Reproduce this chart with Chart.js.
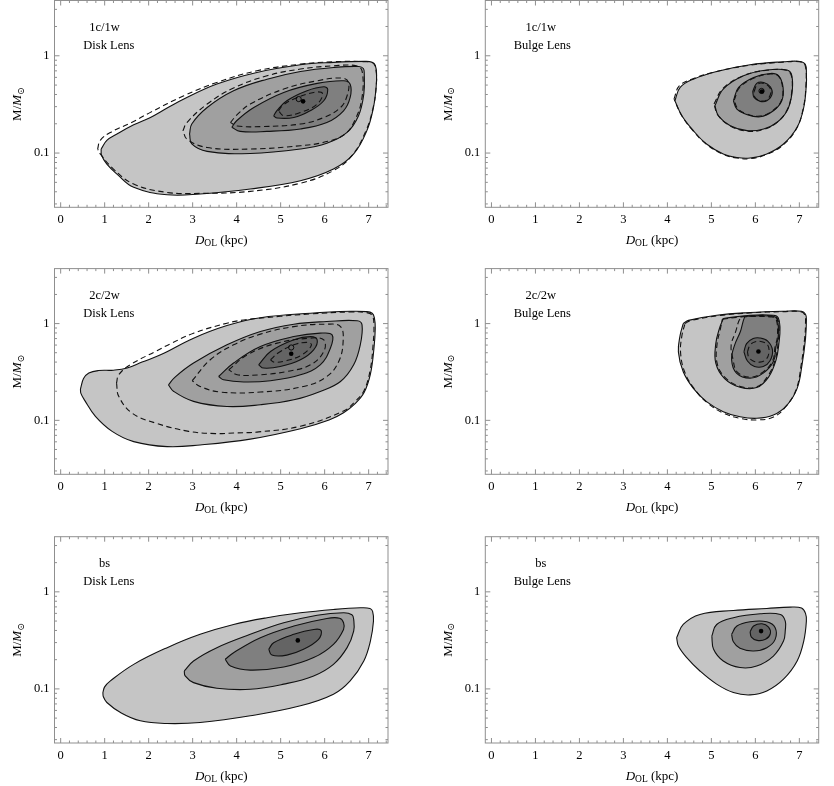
<!DOCTYPE html>
<html>
<head>
<meta charset="utf-8">
<script src="https://cdn.jsdelivr.net/npm/chart.js@4.4.1/dist/chart.umd.min.js"></script>
<style>
  html, body { margin: 0; padding: 0; background: #fff; }
  #wrap { position: relative; width: 834px; height: 786px; }
  #wrap canvas { position: absolute; }
</style>
</head>
<body>
<div id="wrap"></div>
<script>
// axes
const X_MIN = -0.14, X_MAX = 7.44;
const Y_MIN = 0.0277, Y_MAX = 3.7;
const X_TICKS = [0, 1, 2, 3, 4, 5, 6, 7];
const Y_TICKS = [0.1, 1];
const Y_MINOR = [0.03, 0.04, 0.05, 0.06, 0.07, 0.08, 0.09, 0.2, 0.3, 0.4, 0.5, 0.6, 0.7, 0.8, 0.9, 2, 3];

const PANEL_TAGS = ["1c/1w", "1c/1w", "2c/2w", "2c/2w", "bs", "bs"];
const LENS_NAMES = ["Disk Lens", "Bulge Lens", "Disk Lens", "Bulge Lens", "Disk Lens", "Bulge Lens"];

// === contours, [D_OL (kpc), M/Msun] ===
// 1c/1w disk
const disk1cSolid = [
  [[0.92,0.110],[1.05,0.135],[1.28,0.157],[1.66,0.195],[2.04,0.232],[2.42,0.29],[2.80,0.359],[3.55,0.512],[4.46,0.674],[5.45,0.809],[6.20,0.855],[6.90,0.875],[7.08,0.86],[7.15,0.80],[7.18,0.65],[7.17,0.473],[7.11,0.294],[6.96,0.17],[6.66,0.098],[6.20,0.0685],[5.45,0.052],[4.31,0.0427],[3.17,0.038],[2.42,0.0373],[1.66,0.0444],[1.28,0.0608],[1.05,0.077],[0.93,0.095]],
  [[2.93,0.157],[2.98,0.199],[3.33,0.294],[3.93,0.437],[4.69,0.575],[5.45,0.690],[6.20,0.759],[6.78,0.777],[6.88,0.74],[6.90,0.66],[6.89,0.404],[6.77,0.242],[6.51,0.163],[6.05,0.126],[5.45,0.110],[4.31,0.099],[3.33,0.104],[2.98,0.124]],
  [[3.89,0.184],[4.0,0.215],[4.39,0.294],[5.07,0.42],[5.83,0.52],[6.43,0.553],[6.58,0.51],[6.58,0.373],[6.43,0.272],[6.05,0.206],[5.45,0.177],[4.69,0.167],[4.08,0.167]],
  [[4.84,0.242],[4.92,0.275],[5.14,0.345],[5.60,0.437],[5.98,0.48],[6.07,0.45],[5.98,0.345],[5.67,0.272],[5.30,0.232],[4.92,0.229]]
];
const disk1cDashed = [
  [[0.84,0.11],[0.90,0.135],[1.13,0.163],[1.60,0.205],[2.04,0.262],[2.80,0.388],[3.55,0.532],[4.46,0.701],[5.45,0.82],[6.20,0.868],[6.90,0.87],[7.10,0.84],[7.17,0.70],[7.17,0.47],[7.10,0.29],[6.94,0.17],[6.62,0.094],[6.20,0.066],[5.45,0.049],[4.31,0.0404],[3.17,0.0385],[2.42,0.0394],[1.66,0.048],[1.20,0.0685],[0.90,0.098]],
  [[2.78,0.17],[2.87,0.206],[3.33,0.319],[3.93,0.466],[4.69,0.623],[5.45,0.73],[6.20,0.789],[6.72,0.79],[6.85,0.70],[6.85,0.373],[6.70,0.224],[6.45,0.155],[5.98,0.129],[5.45,0.119],[4.31,0.11],[3.33,0.114],[2.87,0.139]],
  [[3.86,0.206],[4.0,0.245],[4.31,0.319],[5.07,0.455],[5.83,0.553],[6.40,0.59],[6.54,0.532],[6.51,0.388],[6.36,0.294],[5.98,0.232],[5.45,0.199],[4.54,0.187],[4.01,0.19]],
  [[4.95,0.272],[5.05,0.31],[5.30,0.359],[5.75,0.42],[5.95,0.41],[5.83,0.319],[5.45,0.262],[5.07,0.242]]
];
const disk1cBest = [5.51, 0.34];
const disk1cOpen = [5.41, 0.359];

// 1c/1w bulge
const bulge1cSolid = [
  [[4.17,0.345],[4.29,0.473],[4.59,0.575],[5.12,0.69],[5.88,0.809],[6.64,0.868],[7.02,0.874],[7.14,0.81],[7.16,0.65],[7.16,0.512],[7.10,0.294],[6.95,0.184],[6.64,0.124],[6.26,0.098],[5.88,0.089],[5.58,0.090],[5.27,0.098],[4.89,0.124],[4.59,0.17],[4.33,0.242]],
  [[5.08,0.306],[5.27,0.455],[5.73,0.623],[6.26,0.713],[6.72,0.713],[6.83,0.623],[6.83,0.404],[6.72,0.272],[6.49,0.206],[6.19,0.177],[5.81,0.17],[5.43,0.191],[5.16,0.242]],
  [[5.50,0.345],[5.62,0.473],[5.96,0.598],[6.34,0.658],[6.53,0.623],[6.63,0.473],[6.60,0.345],[6.41,0.272],[6.11,0.236],[5.77,0.252],[5.58,0.283]],
  [[5.94,0.43],[6.03,0.52],[6.19,0.532],[6.34,0.48],[6.38,0.404],[6.26,0.345],[6.11,0.34],[5.97,0.373]]
];
const bulge1cDashed = [
  [[4.15,0.36],[4.27,0.49],[4.58,0.58],[5.12,0.69],[5.88,0.80],[6.64,0.86],[7.00,0.87],[7.13,0.80],[7.15,0.50],[7.09,0.29],[6.94,0.18],[6.64,0.122],[6.26,0.097],[5.88,0.0875],[5.58,0.089],[5.27,0.097],[4.89,0.123],[4.59,0.168],[4.32,0.245]],
  [[5.06,0.32],[5.26,0.46],[5.73,0.625],[6.26,0.71],[6.70,0.71],[6.82,0.62],[6.82,0.40],[6.71,0.27],[6.48,0.205],[6.19,0.175],[5.81,0.168],[5.43,0.19],[5.15,0.245]],
  [[5.52,0.35],[5.64,0.47],[5.97,0.59],[6.34,0.65],[6.52,0.62],[6.62,0.47],[6.59,0.345],[6.40,0.274],[6.11,0.24],[5.78,0.255],[5.59,0.29]],
  [[5.97,0.43],[6.05,0.51],[6.19,0.52],[6.32,0.475],[6.35,0.41],[6.25,0.35],[6.11,0.345],[5.99,0.375]]
];
const bulge1cBest = [6.15, 0.43];
const bulge1cOpen = [6.14, 0.435];

// 2c/2w disk
const disk2cSolid = [
  [[0.45,0.211],[0.52,0.27],[0.64,0.308],[0.86,0.327],[1.20,0.33],[1.51,0.347],[1.85,0.40],[2.27,0.475],[3.02,0.707],[3.78,0.955],[4.54,1.15],[5.68,1.28],[6.60,1.34],[6.95,1.33],[7.08,1.28],[7.13,1.15],[7.15,0.888],[7.12,0.55],[7.04,0.30],[6.90,0.195],[6.70,0.150],[6.43,0.120],[6.10,0.101],[5.45,0.082],[4.31,0.0640],[3.17,0.0557],[2.42,0.0535],[1.66,0.0603],[1.17,0.077],[0.79,0.11],[0.55,0.16],[0.46,0.19]],
  [[2.45,0.233],[2.60,0.28],[3.02,0.391],[3.78,0.603],[4.54,0.828],[5.30,0.986],[6.05,1.05],[6.74,1.07],[6.85,0.97],[6.81,0.603],[6.66,0.375],[6.36,0.252],[5.90,0.199],[5.30,0.163],[4.54,0.145],[3.78,0.139],[3.02,0.157],[2.57,0.199]],
  [[3.59,0.284],[3.93,0.391],[4.54,0.579],[5.30,0.734],[5.90,0.796],[6.17,0.765],[6.13,0.557],[5.90,0.375],[5.45,0.296],[4.77,0.257],[4.16,0.249],[3.70,0.263]],
  [[4.50,0.375],[4.77,0.514],[5.30,0.679],[5.68,0.734],[5.83,0.679],[5.75,0.536],[5.45,0.423],[4.99,0.36],[4.61,0.347]]
];
const disk2cDashed = [
  [[1.27,0.243],[1.32,0.296],[1.58,0.375],[2.15,0.514],[2.50,0.62],[3.02,0.796],[3.78,1.01],[4.16,1.09],[5.00,1.19],[5.68,1.26],[6.60,1.32],[6.95,1.30],[7.08,1.22],[7.12,0.95],[7.10,0.60],[7.04,0.34],[6.90,0.205],[6.70,0.158],[6.43,0.125],[5.45,0.087],[4.50,0.076],[3.93,0.074],[3.52,0.073],[2.91,0.077],[2.15,0.094],[1.62,0.119],[1.32,0.177]],
  [[2.99,0.257],[3.40,0.423],[3.93,0.603],[4.54,0.778],[5.30,0.931],[6.05,0.986],[6.36,0.931],[6.42,0.652],[6.32,0.406],[6.05,0.284],[5.52,0.224],[4.54,0.196],[3.63,0.196],[3.17,0.224]],
  [[3.82,0.333],[4.24,0.475],[4.92,0.628],[5.68,0.707],[5.98,0.679],[5.98,0.514],[5.68,0.375],[5.15,0.32],[4.54,0.296],[4.01,0.296]],
  [[4.77,0.423],[4.95,0.50],[5.30,0.603],[5.60,0.64],[5.70,0.60],[5.50,0.48],[5.10,0.41],[4.85,0.40]]
];
const disk2cBest = [5.24, 0.488];
const disk2cOpen = [5.24, 0.566];

// 2c/2w bulge
const bulge2cSolid = [
  [[4.36,1.0],[4.48,1.08],[5.12,1.22],[5.88,1.30],[6.64,1.34],[7.05,1.34],[7.14,1.25],[7.16,1.10],[7.14,0.70],[7.06,0.372],[6.95,0.214],[6.72,0.144],[6.41,0.1135],[6.03,0.105],[5.65,0.109],[5.27,0.123],[4.89,0.156],[4.59,0.214],[4.36,0.318],[4.25,0.51],[4.29,0.759]],
  [[5.27,1.13],[5.88,1.22],[6.41,1.22],[6.52,1.15],[6.56,0.90],[6.54,0.65],[6.47,0.42],[6.30,0.28],[6.03,0.218],[5.65,0.22],[5.30,0.27],[5.10,0.39],[5.10,0.62],[5.18,0.88]],
  [[5.76,1.18],[6.00,1.20],[6.40,1.19],[6.50,1.10],[6.52,0.734],[6.47,0.58],[6.41,0.406],[6.18,0.308],[5.88,0.273],[5.57,0.308],[5.46,0.423],[5.53,0.603],[5.66,0.828],[5.72,1.05]],
  [[5.74,0.51],[5.80,0.62],[5.95,0.70],[6.10,0.71],[6.28,0.66],[6.39,0.53],[6.33,0.41],[6.18,0.36],[5.98,0.36],[5.82,0.41]]
];
const bulge2cDashed = [
  [[4.40,1.0],[4.52,1.07],[5.12,1.20],[5.88,1.29],[6.64,1.33],[7.03,1.33],[7.12,1.24],[7.14,1.0],[7.12,0.70],[7.04,0.37],[6.93,0.21],[6.70,0.14],[6.41,0.108],[6.03,0.101],[5.65,0.105],[5.27,0.119],[4.92,0.15],[4.63,0.207],[4.40,0.31],[4.30,0.50],[4.33,0.75]],
  [[5.25,1.11],[5.88,1.20],[6.40,1.20],[6.50,1.12],[6.54,0.90],[6.52,0.65],[6.45,0.42],[6.28,0.285],[6.03,0.222],[5.66,0.224],[5.32,0.275],[5.13,0.39],[5.13,0.62],[5.20,0.86]],
  [[5.68,1.17],[5.78,1.18],[6.38,1.17],[6.48,1.08],[6.50,0.73],[6.45,0.58],[6.39,0.41],[6.17,0.315],[5.88,0.28],[5.59,0.315],[5.49,0.43],[5.45,0.60],[5.55,0.82],[5.62,1.05]],
  [[5.82,0.51],[5.88,0.60],[6.00,0.65],[6.15,0.65],[6.28,0.60],[6.31,0.51],[6.25,0.43],[6.10,0.40],[5.95,0.41],[5.85,0.45]]
];
const bulge2cBest = [6.07, 0.515];

// bs disk
const diskBsSolid = [
  [[0.96,0.0917],[1.00,0.105],[1.13,0.121],[1.66,0.179],[2.42,0.266],[3.17,0.365],[3.93,0.461],[4.69,0.541],[5.45,0.608],[6.20,0.658],[6.81,0.685],[7.03,0.675],[7.09,0.63],[7.11,0.50],[7.04,0.311],[6.89,0.194],[6.58,0.121],[6.20,0.0881],[5.45,0.0669],[4.31,0.0528],[3.17,0.0451],[2.42,0.044],[1.81,0.0469],[1.36,0.0571],[1.05,0.0724],[0.97,0.083]],
  [[2.81,0.153],[3.02,0.194],[3.55,0.266],[4.31,0.365],[5.07,0.48],[5.83,0.575],[6.43,0.608],[6.62,0.58],[6.66,0.52],[6.66,0.394],[6.51,0.266],[6.20,0.179],[5.75,0.136],[5.07,0.112],[4.31,0.099],[3.55,0.1016],[3.02,0.116],[2.83,0.136]],
  [[3.74,0.202],[3.93,0.236],[4.54,0.337],[5.30,0.444],[6.05,0.532],[6.34,0.535],[6.43,0.48],[6.43,0.41],[6.20,0.288],[5.75,0.21],[5.07,0.168],[4.31,0.156],[3.86,0.172]],
  [[4.73,0.256],[4.84,0.299],[5.30,0.365],[5.75,0.41],[5.92,0.40],[5.86,0.324],[5.52,0.256],[5.14,0.223],[4.80,0.223]]
];
const diskBsBest = [5.39, 0.316];

// bs bulge
const bulgeBsSolid = [
  [[4.21,0.337],[4.36,0.461],[4.74,0.585],[5.50,0.643],[6.26,0.674],[6.79,0.696],[7.05,0.68],[7.14,0.60],[7.16,0.50],[7.10,0.311],[6.95,0.194],[6.64,0.126],[6.26,0.0953],[5.88,0.0867],[5.50,0.0917],[5.12,0.112],[4.74,0.153],[4.44,0.21],[4.25,0.277]],
  [[5.01,0.35],[5.12,0.461],[5.50,0.541],[6.11,0.594],[6.57,0.585],[6.68,0.50],[6.68,0.40],[6.64,0.311],[6.41,0.218],[6.03,0.172],[5.65,0.166],[5.27,0.194],[5.05,0.256]],
  [[5.46,0.365],[5.58,0.444],[5.88,0.492],[6.26,0.492],[6.45,0.427],[6.45,0.324],[6.26,0.266],[5.96,0.246],[5.65,0.262],[5.50,0.306]],
  [[5.88,0.388],[5.96,0.444],[6.15,0.469],[6.30,0.433],[6.34,0.37],[6.23,0.324],[6.04,0.316],[5.91,0.342]]
];
const bulgeBsBest = [6.13, 0.394];

const panels = [
  { solid: disk1cSolid, dashed: disk1cDashed, best: disk1cBest, open: disk1cOpen },
  { solid: bulge1cSolid, dashed: bulge1cDashed, best: bulge1cBest, open: bulge1cOpen },
  { solid: disk2cSolid, dashed: disk2cDashed, best: disk2cBest, open: disk2cOpen },
  { solid: bulge2cSolid, dashed: bulge2cDashed, best: bulge2cBest },
  { solid: diskBsSolid, dashed: [], best: diskBsBest },
  { solid: bulgeBsSolid, dashed: [], best: bulgeBsBest }
];

// === look ===
const FILLS = ["#c5c5c5", "#a0a0a0", "#7f7f7f", "#646464"];
const FRAME = "#8f8f8f";
const SERIF = "'Liberation Serif', 'DejaVu Serif', serif";
const CANVAS_W = 417, CANVAS_H = 262;
// plot area inside each canvas: [y axis width, right pad] per column, [top pad, x axis height] per row
const COLS = [[54.5, 29], [68.3, 15.3]];
const ROWS = [[0.5, 54.7], [6.6, 49.7], [12.7, 43]];

function loop(pts) {
  return pts.concat([pts[0]]).map(p => ({ x: p[0], y: p[1] }));
}

function buildDatasets(p) {
  const ds = [];
  p.solid.forEach((c, i) => ds.push({
    data: loop(c), borderColor: "#111", borderWidth: 1.1,
    backgroundColor: FILLS[i], fill: "shape", tension: 0.4, pointRadius: 0
  }));
  p.dashed.forEach(c => ds.push({
    data: loop(c), borderColor: "#111", borderWidth: 1.1, borderDash: [5.5, 3.5],
    fill: false, tension: 0.4, pointRadius: 0
  }));
  if (p.open) ds.push({
    data: [{ x: p.open[0], y: p.open[1] }], showLine: false,
    pointRadius: 2.6, pointBackgroundColor: "rgba(0,0,0,0)", pointBorderColor: "#000", pointBorderWidth: 0.9
  });
  ds.push({
    data: [{ x: p.best[0], y: p.best[1] }], showLine: false,
    pointRadius: 2.3, pointBackgroundColor: "#000", pointBorderColor: "#000", pointBorderWidth: 0
  });
  ds.forEach((d, i) => { d.order = -i; });
  return ds;
}

// frame with inward ticks on all sides
const framePlugin = {
  id: "frame",
  afterDatasetsDraw(chart) {
    const { ctx, chartArea: a, scales: { x, y } } = chart;
    ctx.save();
    ctx.strokeStyle = FRAME;
    ctx.lineWidth = 1;
    ctx.strokeRect(a.left, a.top, a.right - a.left, a.bottom - a.top);
    ctx.beginPath();
    for (let i = 0; i <= 37; i++) {
      const px = x.getPixelForValue(i / 5);
      const len = i % 5 === 0 ? 5 : 2.5;
      ctx.moveTo(px, a.bottom); ctx.lineTo(px, a.bottom - len);
      ctx.moveTo(px, a.top); ctx.lineTo(px, a.top + len);
    }
    Y_TICKS.concat(Y_MINOR).forEach(v => {
      const py = y.getPixelForValue(v);
      const len = Y_TICKS.includes(v) ? 5 : 2.5;
      ctx.moveTo(a.left, py); ctx.lineTo(a.left + len, py);
      ctx.moveTo(a.right, py); ctx.lineTo(a.right - len, py);
    });
    ctx.stroke();
    ctx.restore();
  }
};

// axis titles and panel labels
function textPlugin(idx) {
  return {
    id: "texts",
    afterDraw(chart) {
      const { ctx, chartArea: a } = chart;
      const right = idx % 2 === 1;
      ctx.save();
      ctx.fillStyle = "#000";
      ctx.textBaseline = "middle";
      ctx.textAlign = "center";
      ctx.font = "12.5px " + SERIF;
      ctx.fillText(PANEL_TAGS[idx], a.left + (right ? 55.5 : 50), a.top + 27.5);
      ctx.fillText(LENS_NAMES[idx], a.left + (right ? 57 : 54.3), a.top + 45);

      // x title: D_OL (kpc)
      drawParts(ctx, [
        { t: "D", f: "italic 13px " + SERIF, dy: 0 },
        { t: "OL", f: "9.5px " + SERIF, dy: 3 },
        { t: " (kpc)", f: "13px " + SERIF, dy: 0 }
      ], (a.left + a.right) / 2, a.bottom + 33.5);

      // y title: M/M_sun, rotated
      ctx.translate(a.left - 36.5, (a.top + a.bottom) / 2);
      ctx.rotate(-Math.PI / 2);
      drawParts(ctx, [
        { t: "M/", f: "13px " + SERIF, dy: 0 },
        { t: "M", f: "italic 13px " + SERIF, dy: 0 },
        { t: "\u2299", f: "9.5px " + SERIF, dy: 3 }
      ], 0, 0);
      ctx.restore();
    }
  };
}

function drawParts(ctx, parts, cx, cy) {
  let w = 0;
  parts.forEach(p => { ctx.font = p.f; w += ctx.measureText(p.t).width; });
  let x = cx - w / 2;
  ctx.textAlign = "left";
  parts.forEach(p => {
    ctx.font = p.f;
    ctx.fillText(p.t, x, cy + p.dy);
    x += ctx.measureText(p.t).width;
  });
  ctx.textAlign = "center";
}

const wrap = document.getElementById("wrap");
panels.forEach((p, idx) => {
  const col = idx % 2, row = Math.floor(idx / 2);
  const cv = document.createElement("canvas");
  cv.width = CANVAS_W; cv.height = CANVAS_H;
  cv.style.left = (col * CANVAS_W) + "px";
  cv.style.top = (row * CANVAS_H) + "px";
  cv.style.width = CANVAS_W + "px"; cv.style.height = CANVAS_H + "px";
  wrap.appendChild(cv);
  const [yAxisW, padR] = COLS[col];
  const [padT, xAxisH] = ROWS[row];

  new Chart(cv, {
    type: "line",
    data: { datasets: buildDatasets(p) },
    options: {
      responsive: false,
      animation: false,
      devicePixelRatio: 1,
      events: [],
      layout: { autoPadding: false, padding: { top: padT, right: padR, left: 0, bottom: 0 } },
      plugins: { legend: { display: false }, tooltip: { enabled: false } },
      scales: {
        x: {
          type: "linear", min: X_MIN, max: X_MAX,
          grid: { display: false, drawTicks: false },
          border: { display: false },
          ticks: { color: "#000", font: { family: SERIF, size: 12.5 }, padding: 5, maxRotation: 0 },
          afterBuildTicks: s => { s.ticks = X_TICKS.map(v => ({ value: v })); },
          afterFit: s => { s.height = xAxisH; s.paddingLeft = 0; s.paddingRight = 0; }
        },
        y: {
          type: "logarithmic", min: Y_MIN, max: Y_MAX,
          grid: { display: false, drawTicks: false },
          border: { display: false },
          ticks: { color: "#000", font: { family: SERIF, size: 12.5 }, padding: 5,
                   callback: v => String(v) },
          afterBuildTicks: s => { s.ticks = Y_TICKS.map(v => ({ value: v })); },
          afterFit: s => { s.width = yAxisW; s.paddingTop = 0; s.paddingBottom = 0; }
        }
      }
    },
    plugins: [framePlugin, textPlugin(idx)]
  });
});
</script>
</body>
</html>
